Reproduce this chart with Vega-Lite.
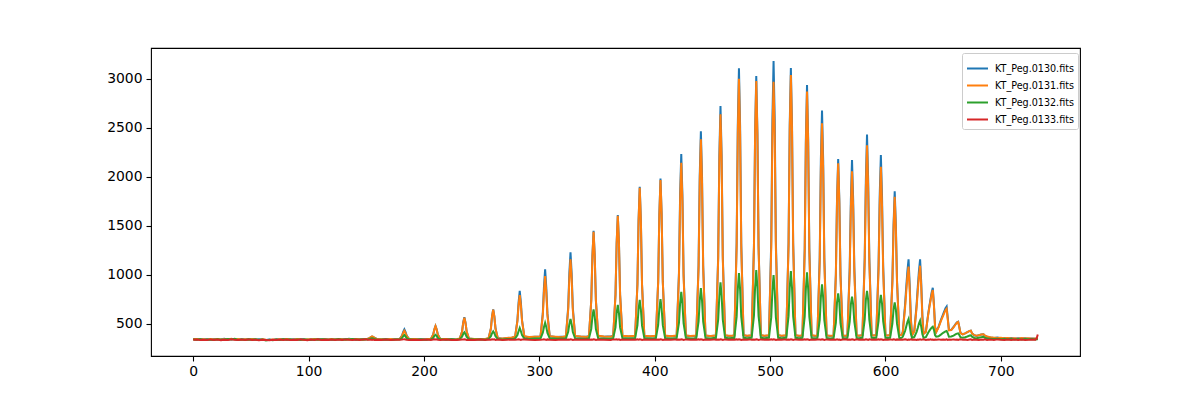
{
"$schema": "https://vega.github.io/schema/vega-lite/v6.json",
"width": 929, "height": 308,
"autosize": {"type": "none"},
"padding": {"left": 151, "top": 48, "right": 120, "bottom": 44},
"background": "white",
"config": {"font": "DejaVu Sans", "view": {"stroke": "black", "strokeWidth": 1.1}},
"data": {"values": [
{"x":0,"a":346,"b":344,"c":341,"d":339},{"x":3,"a":343,"b":347,"c":339,"d":342},{"x":6,"a":348,"b":342,"c":344,"d":336},{"x":9,"a":341,"b":345,"c":338,"d":340},{"x":12,"a":345,"b":340,"c":343,"d":337},{"x":15,"a":339,"b":346,"c":340,"d":343},{"x":18,"a":347,"b":343,"c":336,"d":338},{"x":21,"a":342,"b":348,"c":345,"d":341},{"x":24,"a":344,"b":341,"c":339,"d":335},{"x":27,"a":349,"b":345,"c":342,"d":340},{"x":30,"a":340,"b":343,"c":347,"d":338},{"x":33,"a":346,"b":349,"c":341,"d":344},{"x":36,"a":343,"b":342,"c":350,"d":339},{"x":39,"a":338,"b":346,"c":338,"d":336},{"x":42,"a":345,"b":340,"c":343,"d":341},{"x":45,"a":341,"b":344,"c":337,"d":338},{"x":48,"a":347,"b":341,"c":342,"d":343},{"x":51,"a":344,"b":347,"c":339,"d":337},{"x":54,"a":339,"b":343,"c":344,"d":340},{"x":57,"a":345,"b":338,"c":336,"d":335},{"x":60,"a":342,"b":344,"c":341,"d":339},{"x":63,"a":336,"b":340,"c":333,"d":337},{"x":66,"a":341,"b":337,"c":339,"d":334},{"x":69,"a":338,"b":343,"c":335,"d":340},{"x":72,"a":344,"b":339,"c":342,"d":336},{"x":75,"a":340,"b":345,"c":338,"d":341},{"x":78,"a":346,"b":341,"c":344,"d":337},{"x":81,"a":342,"b":347,"c":339,"d":342},{"x":84,"a":339,"b":343,"c":345,"d":338},{"x":87,"a":345,"b":340,"c":337,"d":340},{"x":90,"a":341,"b":346,"c":342,"d":336},{"x":93,"a":347,"b":342,"c":338,"d":343},{"x":96,"a":343,"b":338,"c":344,"d":339},{"x":99,"a":338,"b":344,"c":340,"d":335},{"x":102,"a":344,"b":341,"c":336,"d":341},{"x":105,"a":340,"b":347,"c":343,"d":338},{"x":108,"a":346,"b":343,"c":339,"d":344},{"x":111,"a":342,"b":339,"c":345,"d":337},{"x":114,"a":348,"b":345,"c":341,"d":340},{"x":117,"a":344,"b":341,"c":337,"d":336},{"x":120,"a":339,"b":346,"c":343,"d":342},{"x":123,"a":345,"b":342,"c":340,"d":338},{"x":126,"a":341,"b":348,"c":346,"d":341},{"x":129,"a":347,"b":344,"c":338,"d":337},{"x":132,"a":343,"b":340,"c":344,"d":343},{"x":135,"a":349,"b":346,"c":341,"d":339},{"x":138,"a":345,"b":342,"c":347,"d":336},{"x":141,"a":340,"b":348,"c":343,"d":342},{"x":144,"a":346,"b":344,"c":339,"d":338},{"x":147,"a":342,"b":340,"c":345,"d":341},{"x":150,"a":348,"b":346,"c":342,"d":344},
{"x":151,"a":347,"b":347,"c":341,"d":340},{"x":153,"a":356,"b":358,"c":347,"d":339},{"x":154,"a":366,"b":367,"c":352,"d":342},{"x":155,"a":372,"b":373,"c":355,"d":338},{"x":156,"a":368,"b":369,"c":352,"d":341},{"x":157,"a":360,"b":359,"c":347,"d":337},{"x":159,"a":348,"b":347,"c":342,"d":340},{"x":163,"a":344,"b":345,"c":340,"d":336},{"x":167,"a":346,"b":343,"c":343,"d":341},{"x":171,"a":341,"b":346,"c":338,"d":337},{"x":175,"a":345,"b":342,"c":341,"d":340},
{"x":179,"a":348,"b":347,"c":343,"d":339},{"x":181,"a":382,"b":378,"c":357,"d":341},{"x":182,"a":421,"b":410,"c":375,"d":343},{"x":183,"a":446,"b":431,"c":388,"d":345},{"x":184,"a":420,"b":408,"c":374,"d":342},{"x":185,"a":381,"b":377,"c":356,"d":339},{"x":187,"a":349,"b":348,"c":344,"d":336},{"x":192,"a":343,"b":346,"c":339,"d":340},{"x":197,"a":347,"b":342,"c":343,"d":337},{"x":202,"a":341,"b":345,"c":340,"d":341},
{"x":206,"a":348,"b":349,"c":343,"d":338},{"x":208,"a":392,"b":391,"c":358,"d":342},{"x":209,"a":446,"b":444,"c":379,"d":344},{"x":210,"a":480,"b":478,"c":390,"d":341},{"x":211,"a":447,"b":444,"c":378,"d":343},{"x":212,"a":393,"b":391,"c":357,"d":339},{"x":214,"a":350,"b":349,"c":344,"d":337},{"x":219,"a":344,"b":346,"c":340,"d":341},{"x":224,"a":347,"b":343,"c":344,"d":338},{"x":228,"a":342,"b":345,"c":339,"d":336},
{"x":231,"a":351,"b":352,"c":345,"d":340},{"x":233,"a":423,"b":421,"c":370,"d":343},{"x":234,"a":515,"b":512,"c":398,"d":341},{"x":235,"a":568,"b":565,"c":415,"d":345},{"x":236,"a":514,"b":511,"c":397,"d":342},{"x":237,"a":424,"b":422,"c":369,"d":338},{"x":239,"a":352,"b":351,"c":346,"d":340},{"x":244,"a":345,"b":347,"c":341,"d":337},{"x":249,"a":348,"b":344,"c":343,"d":341},{"x":253,"a":344,"b":346,"c":340,"d":338},
{"x":256,"a":354,"b":355,"c":346,"d":342},{"x":258,"a":455,"b":453,"c":375,"d":339},{"x":259,"a":580,"b":577,"c":407,"d":344},{"x":260,"a":650,"b":645,"c":425,"d":341},{"x":261,"a":578,"b":575,"c":406,"d":343},{"x":262,"a":454,"b":452,"c":374,"d":338},{"x":264,"a":356,"b":355,"c":347,"d":341},{"x":268,"a":350,"b":352,"c":343,"d":337},{"x":272,"a":356,"b":358,"c":346,"d":340},{"x":276,"a":360,"b":361,"c":348,"d":342},
{"x":279,"a":370,"b":372,"c":351,"d":339},{"x":281,"a":540,"b":530,"c":388,"d":341},{"x":282,"a":720,"b":690,"c":427,"d":344},{"x":283,"a":837,"b":796,"c":459,"d":342},{"x":284,"a":718,"b":688,"c":426,"d":338},{"x":285,"a":538,"b":528,"c":387,"d":341},{"x":287,"a":372,"b":374,"c":352,"d":343},{"x":291,"a":365,"b":368,"c":348,"d":339},{"x":296,"a":369,"b":371,"c":351,"d":337},
{"x":301,"a":372,"b":373,"c":353,"d":340},{"x":303,"a":610,"b":590,"c":410,"d":342},{"x":304,"a":880,"b":830,"c":470,"d":345},{"x":305,"a":1058,"b":990,"c":513,"d":341},{"x":306,"a":878,"b":828,"c":469,"d":338},{"x":307,"a":608,"b":588,"c":409,"d":343},{"x":309,"a":374,"b":375,"c":354,"d":340},{"x":314,"a":367,"b":370,"c":349,"d":336},{"x":319,"a":370,"b":366,"c":351,"d":341},
{"x":323,"a":372,"b":374,"c":353,"d":339},{"x":325,"a":670,"b":645,"c":420,"d":342},{"x":326,"a":1020,"b":965,"c":500,"d":340},{"x":327,"a":1231,"b":1160,"c":551,"d":344},{"x":328,"a":1018,"b":962,"c":498,"d":341},{"x":329,"a":668,"b":643,"c":418,"d":338},{"x":331,"a":376,"b":378,"c":354,"d":342},{"x":336,"a":369,"b":372,"c":349,"d":339},{"x":341,"a":372,"b":368,"c":352,"d":343},
{"x":343,"a":374,"b":376,"c":354,"d":340},{"x":345,"a":745,"b":740,"c":450,"d":342},{"x":346,"a":1200,"b":1190,"c":575,"d":339},{"x":347,"a":1452,"b":1440,"c":650,"d":344},{"x":348,"a":1198,"b":1188,"c":573,"d":341},{"x":349,"a":743,"b":738,"c":448,"d":337},{"x":351,"a":378,"b":379,"c":355,"d":342},{"x":356,"a":371,"b":373,"c":350,"d":340},{"x":362,"a":374,"b":370,"c":352,"d":338},
{"x":364,"a":376,"b":377,"c":355,"d":343},{"x":366,"a":800,"b":798,"c":465,"d":341},{"x":367,"a":1330,"b":1325,"c":610,"d":344},{"x":368,"a":1612,"b":1605,"c":694,"d":340},{"x":369,"a":1328,"b":1322,"c":608,"d":343},{"x":370,"a":798,"b":795,"c":463,"d":338},{"x":372,"a":379,"b":380,"c":356,"d":341},{"x":377,"a":372,"b":374,"c":351,"d":339},{"x":381,"a":375,"b":377,"c":354,"d":342},
{"x":383,"a":377,"b":378,"c":356,"d":340},{"x":385,"a":905,"b":900,"c":485,"d":343},{"x":386,"a":1560,"b":1552,"c":650,"d":340},{"x":387,"a":1901,"b":1890,"c":745,"d":344},{"x":388,"a":1558,"b":1550,"c":648,"d":341},{"x":389,"a":903,"b":898,"c":483,"d":338},{"x":391,"a":380,"b":381,"c":357,"d":342},{"x":396,"a":373,"b":375,"c":352,"d":339},{"x":399,"a":376,"b":378,"c":354,"d":343},
{"x":401,"a":378,"b":379,"c":356,"d":340},{"x":403,"a":935,"b":930,"c":490,"d":342},{"x":404,"a":1625,"b":1615,"c":655,"d":339},{"x":405,"a":1983,"b":1970,"c":755,"d":344},{"x":406,"a":1622,"b":1612,"c":653,"d":341},{"x":407,"a":932,"b":928,"c":488,"d":338},{"x":409,"a":381,"b":382,"c":357,"d":342},{"x":414,"a":374,"b":376,"c":352,"d":340},{"x":417,"a":377,"b":379,"c":355,"d":343},
{"x":419,"a":379,"b":380,"c":357,"d":339},{"x":421,"a":1020,"b":990,"c":510,"d":342},{"x":422,"a":1825,"b":1755,"c":710,"d":340},{"x":423,"a":2235,"b":2146,"c":827,"d":344},{"x":424,"a":1822,"b":1752,"c":708,"d":341},{"x":425,"a":1018,"b":988,"c":508,"d":338},{"x":427,"a":382,"b":383,"c":358,"d":343},{"x":431,"a":375,"b":377,"c":353,"d":339},{"x":434,"a":378,"b":380,"c":355,"d":342},
{"x":436,"a":380,"b":381,"c":357,"d":340},{"x":438,"a":1100,"b":1075,"c":525,"d":343},{"x":439,"a":2010,"b":1945,"c":740,"d":339},{"x":440,"a":2466,"b":2384,"c":867,"d":344},{"x":441,"a":2006,"b":1942,"c":738,"d":341},{"x":442,"a":1098,"b":1072,"c":523,"d":337},{"x":444,"a":383,"b":384,"c":358,"d":342},{"x":448,"a":376,"b":378,"c":353,"d":340},{"x":451,"a":379,"b":381,"c":356,"d":343},
{"x":453,"a":381,"b":382,"c":357,"d":339},{"x":455,"a":1190,"b":1160,"c":545,"d":342},{"x":456,"a":2220,"b":2150,"c":785,"d":340},{"x":457,"a":2724,"b":2640,"c":925,"d":344},{"x":458,"a":2216,"b":2147,"c":783,"d":341},{"x":459,"a":1188,"b":1158,"c":543,"d":338},{"x":461,"a":384,"b":385,"c":359,"d":343},{"x":464,"a":377,"b":379,"c":354,"d":339},{"x":467,"a":379,"b":381,"c":356,"d":342},
{"x":469,"a":381,"b":383,"c":357,"d":340},{"x":471,"a":1325,"b":1290,"c":575,"d":343},{"x":472,"a":2530,"b":2445,"c":855,"d":339},{"x":473,"a":3109,"b":3003,"c":1020,"d":344},{"x":474,"a":2526,"b":2441,"c":853,"d":341},{"x":475,"a":1322,"b":1287,"c":573,"d":337},{"x":477,"a":385,"b":386,"c":359,"d":342},{"x":480,"a":378,"b":380,"c":354,"d":340},{"x":482,"a":380,"b":382,"c":356,"d":343},
{"x":484,"a":382,"b":383,"c":358,"d":339},{"x":486,"a":1300,"b":1280,"c":585,"d":342},{"x":487,"a":2465,"b":2425,"c":875,"d":340},{"x":488,"a":3031,"b":2980,"c":1051,"d":344},{"x":489,"a":2461,"b":2421,"c":873,"d":341},{"x":490,"a":1297,"b":1277,"c":583,"d":338},{"x":492,"a":385,"b":386,"c":359,"d":343},{"x":495,"a":378,"b":380,"c":354,"d":339},{"x":497,"a":380,"b":382,"c":356,"d":342},
{"x":499,"a":382,"b":384,"c":358,"d":340},{"x":501,"a":1350,"b":1280,"c":570,"d":343},{"x":502,"a":2590,"b":2420,"c":840,"d":339},{"x":503,"a":3183,"b":2972,"c":1000,"d":344},{"x":504,"a":2586,"b":2416,"c":838,"d":341},{"x":505,"a":1347,"b":1277,"c":568,"d":337},{"x":507,"a":385,"b":386,"c":359,"d":342},{"x":510,"a":378,"b":380,"c":354,"d":340},{"x":512,"a":380,"b":382,"c":356,"d":343},
{"x":514,"a":382,"b":383,"c":358,"d":339},{"x":516,"a":1330,"b":1305,"c":580,"d":342},{"x":517,"a":2530,"b":2475,"c":870,"d":340},{"x":518,"a":3112,"b":3041,"c":1041,"d":344},{"x":519,"a":2526,"b":2471,"c":868,"d":341},{"x":520,"a":1327,"b":1302,"c":578,"d":338},{"x":522,"a":385,"b":386,"c":359,"d":343},{"x":525,"a":378,"b":380,"c":354,"d":339},{"x":527,"a":380,"b":382,"c":356,"d":342},
{"x":528,"a":382,"b":383,"c":358,"d":340},{"x":530,"a":1270,"b":1245,"c":576,"d":343},{"x":531,"a":2390,"b":2337,"c":860,"d":339},{"x":532,"a":2939,"b":2871,"c":1028,"d":344},{"x":533,"a":2386,"b":2333,"c":858,"d":341},{"x":534,"a":1267,"b":1242,"c":574,"d":337},{"x":536,"a":384,"b":385,"c":358,"d":342},{"x":539,"a":377,"b":379,"c":354,"d":340},
{"x":541,"a":381,"b":383,"c":358,"d":343},{"x":543,"a":1180,"b":1135,"c":540,"d":342},{"x":544,"a":2180,"b":2075,"c":770,"d":340},{"x":545,"a":2677,"b":2548,"c":905,"d":344},{"x":546,"a":2176,"b":2072,"c":768,"d":341},{"x":547,"a":1177,"b":1132,"c":538,"d":338},{"x":549,"a":383,"b":384,"c":358,"d":343},{"x":552,"a":377,"b":379,"c":353,"d":339},
{"x":555,"a":381,"b":382,"c":357,"d":342},{"x":557,"a":1010,"b":995,"c":510,"d":340},{"x":558,"a":1780,"b":1745,"c":720,"d":343},{"x":559,"a":2184,"b":2140,"c":813,"d":339},{"x":560,"a":1776,"b":1742,"c":718,"d":342},{"x":561,"a":1007,"b":992,"c":508,"d":337},{"x":563,"a":382,"b":383,"c":357,"d":341},{"x":565,"a":378,"b":380,"c":354,"d":344},
{"x":567,"a":383,"b":384,"c":358,"d":339},{"x":569,"a":1080,"b":1030,"c":525,"d":342},{"x":570,"a":1770,"b":1680,"c":700,"d":340},{"x":571,"a":2173,"b":2058,"c":779,"d":344},{"x":572,"a":1766,"b":1676,"c":698,"d":341},{"x":573,"a":1078,"b":1028,"c":523,"d":338},{"x":575,"a":384,"b":385,"c":358,"d":343},{"x":577,"a":380,"b":381,"c":355,"d":339},
{"x":580,"a":385,"b":386,"c":359,"d":342},{"x":582,"a":1180,"b":1135,"c":545,"d":340},{"x":583,"a":1975,"b":1890,"c":745,"d":344},{"x":584,"a":2432,"b":2323,"c":837,"d":341},{"x":585,"a":1971,"b":1886,"c":743,"d":338},{"x":586,"a":1177,"b":1132,"c":543,"d":343},{"x":588,"a":385,"b":386,"c":358,"d":339},{"x":590,"a":382,"b":383,"c":356,"d":342},
{"x":592,"a":386,"b":387,"c":359,"d":340},{"x":594,"a":1100,"b":1050,"c":530,"d":343},{"x":595,"a":1810,"b":1715,"c":710,"d":339},{"x":596,"a":2224,"b":2105,"c":796,"d":344},{"x":597,"a":1806,"b":1711,"c":708,"d":341},{"x":598,"a":1097,"b":1047,"c":528,"d":337},{"x":600,"a":385,"b":386,"c":358,"d":342},{"x":602,"a":382,"b":383,"c":356,"d":340},
{"x":604,"a":386,"b":387,"c":359,"d":343},{"x":606,"a":950,"b":925,"c":505,"d":339},{"x":607,"a":1515,"b":1470,"c":650,"d":344},{"x":608,"a":1854,"b":1799,"c":721,"d":341},{"x":609,"a":1511,"b":1466,"c":648,"d":338},{"x":610,"a":947,"b":922,"c":503,"d":343},{"x":612,"a":384,"b":385,"c":357,"d":340},{"x":614,"a":388,"b":389,"c":360,"d":342},
{"x":615,"a":420,"b":415,"c":370,"d":339},{"x":617,"a":700,"b":670,"c":430,"d":343},{"x":618,"a":880,"b":830,"c":475,"d":341},{"x":619,"a":1040,"b":980,"c":520,"d":338},{"x":620,"a":1160,"b":1085,"c":551,"d":342},{"x":621,"a":900,"b":850,"c":480,"d":340},{"x":622,"a":560,"b":540,"c":400,"d":344},{"x":623,"a":385,"b":386,"c":358,"d":339},
{"x":625,"a":430,"b":425,"c":368,"d":341},{"x":627,"a":700,"b":675,"c":420,"d":337},{"x":628,"a":880,"b":840,"c":460,"d":342},{"x":629,"a":1040,"b":985,"c":505,"d":340},{"x":630,"a":1160,"b":1095,"c":534,"d":343},{"x":631,"a":920,"b":875,"c":470,"d":339},{"x":632,"a":580,"b":560,"c":395,"d":341},{"x":633,"a":400,"b":398,"c":360,"d":344},
{"x":635,"a":420,"b":418,"c":365,"d":338},{"x":637,"a":600,"b":590,"c":410,"d":342},{"x":638,"a":680,"b":668,"c":430,"d":340},{"x":639,"a":750,"b":735,"c":448,"d":343},{"x":640,"a":820,"b":800,"c":463,"d":339},{"x":641,"a":870,"b":847,"c":473,"d":341},{"x":642,"a":700,"b":685,"c":440,"d":338},{"x":643,"a":470,"b":465,"c":385,"d":342},{"x":644,"a":420,"b":418,"c":370,"d":340},
{"x":646,"a":470,"b":465,"c":375,"d":343},{"x":648,"a":540,"b":530,"c":392,"d":339},{"x":650,"a":600,"b":585,"c":410,"d":342},{"x":652,"a":660,"b":640,"c":425,"d":340},{"x":653,"a":677,"b":655,"c":429,"d":344},{"x":654,"a":560,"b":545,"c":405,"d":338},{"x":655,"a":440,"b":435,"c":370,"d":341},
{"x":657,"a":440,"b":438,"c":372,"d":339},{"x":659,"a":470,"b":466,"c":382,"d":343},{"x":661,"a":505,"b":500,"c":396,"d":340},{"x":662,"a":518,"b":514,"c":402,"d":342},{"x":663,"a":524,"b":520,"c":405,"d":338},{"x":664,"a":470,"b":466,"c":388,"d":341},{"x":665,"a":410,"b":408,"c":365,"d":344},
{"x":667,"a":395,"b":394,"c":360,"d":339},{"x":669,"a":405,"b":404,"c":365,"d":342},{"x":671,"a":418,"b":417,"c":372,"d":337},{"x":673,"a":430,"b":429,"c":382,"d":341},{"x":674,"a":432,"b":432,"c":385,"d":343},{"x":675,"a":405,"b":404,"c":370,"d":338},{"x":677,"a":385,"b":386,"c":358,"d":342},
{"x":679,"a":378,"b":380,"c":355,"d":340},{"x":681,"a":385,"b":386,"c":360,"d":337},{"x":683,"a":392,"b":393,"c":366,"d":342},{"x":685,"a":395,"b":395,"c":370,"d":339},{"x":686,"a":382,"b":384,"c":360,"d":343},{"x":688,"a":370,"b":372,"c":352,"d":338},
{"x":691,"a":363,"b":366,"c":350,"d":341},{"x":694,"a":358,"b":361,"c":347,"d":337},{"x":697,"a":361,"b":356,"c":349,"d":343},{"x":700,"a":355,"b":359,"c":345,"d":339},{"x":703,"a":358,"b":354,"c":348,"d":336},{"x":706,"a":352,"b":357,"c":344,"d":342},{"x":709,"a":356,"b":352,"c":347,"d":338},{"x":712,"a":350,"b":355,"c":343,"d":341},{"x":715,"a":354,"b":350,"c":346,"d":337},{"x":718,"a":351,"b":356,"c":343,"d":342},{"x":721,"a":355,"b":351,"c":347,"d":338},{"x":724,"a":350,"b":354,"c":344,"d":340},{"x":727,"a":353,"b":349,"c":346,"d":343},{"x":730,"a":349,"b":352,"c":343,"d":339},{"x":731,"a":350,"b":351,"c":344,"d":352},{"x":732,"a":352,"b":350,"c":345,"d":392}
]},
"transform": [{"fold": ["a", "b", "c", "d"], "as": ["s", "v"]}],
"mark": {"type": "line", "strokeWidth": 2, "interpolate": "linear"},
"encoding": {
  "x": {"field": "x", "type": "quantitative",
        "scale": {"domain": [-36.6, 768.6], "nice": false, "zero": false},
        "axis": {"title": null, "values": [0,100,200,300,400,500,600,700], "format": "d", "grid": false, "domain": false,
                 "tickColor": "black", "tickSize": 5, "tickWidth": 1.1, "labelFontSize": 13.9, "labelColor": "black", "labelPadding": 3, "labelFont": "DejaVu Sans"}},
  "y": {"field": "v", "type": "quantitative",
        "scale": {"domain": [173.5, 3316], "nice": false, "zero": false},
        "axis": {"title": null, "values": [500,1000,1500,2000,2500,3000], "format": "d", "grid": false, "domain": false,
                 "tickColor": "black", "tickSize": 5, "tickWidth": 1.1, "labelFontSize": 13.9, "labelColor": "black", "labelPadding": 4, "labelFont": "DejaVu Sans"}},
  "color": {"field": "s", "type": "nominal",
            "scale": {"domain": ["a", "b", "c", "d"], "range": ["#1f77b4", "#ff7f0e", "#2ca02c", "#d62728"]},
            "legend": {"title": null, "orient": "none", "legendX": 811, "legendY": 5,
                       "symbolType": "stroke", "symbolSize": 441, "symbolStrokeWidth": 2,
                       "labelFontSize": 9.6, "labelFont": "DejaVu Sans", "labelColor": "black", "labelOffset": 6,
                       "padding": 4, "rowPadding": -2, "strokeColor": "#cccccc", "fillColor": "white", "cornerRadius": 2,
                       "labelExpr": "datum.label == 'a' ? 'KT_Peg.0130.fits' : datum.label == 'b' ? 'KT_Peg.0131.fits' : datum.label == 'c' ? 'KT_Peg.0132.fits' : 'KT_Peg.0133.fits'"}}
}
}
